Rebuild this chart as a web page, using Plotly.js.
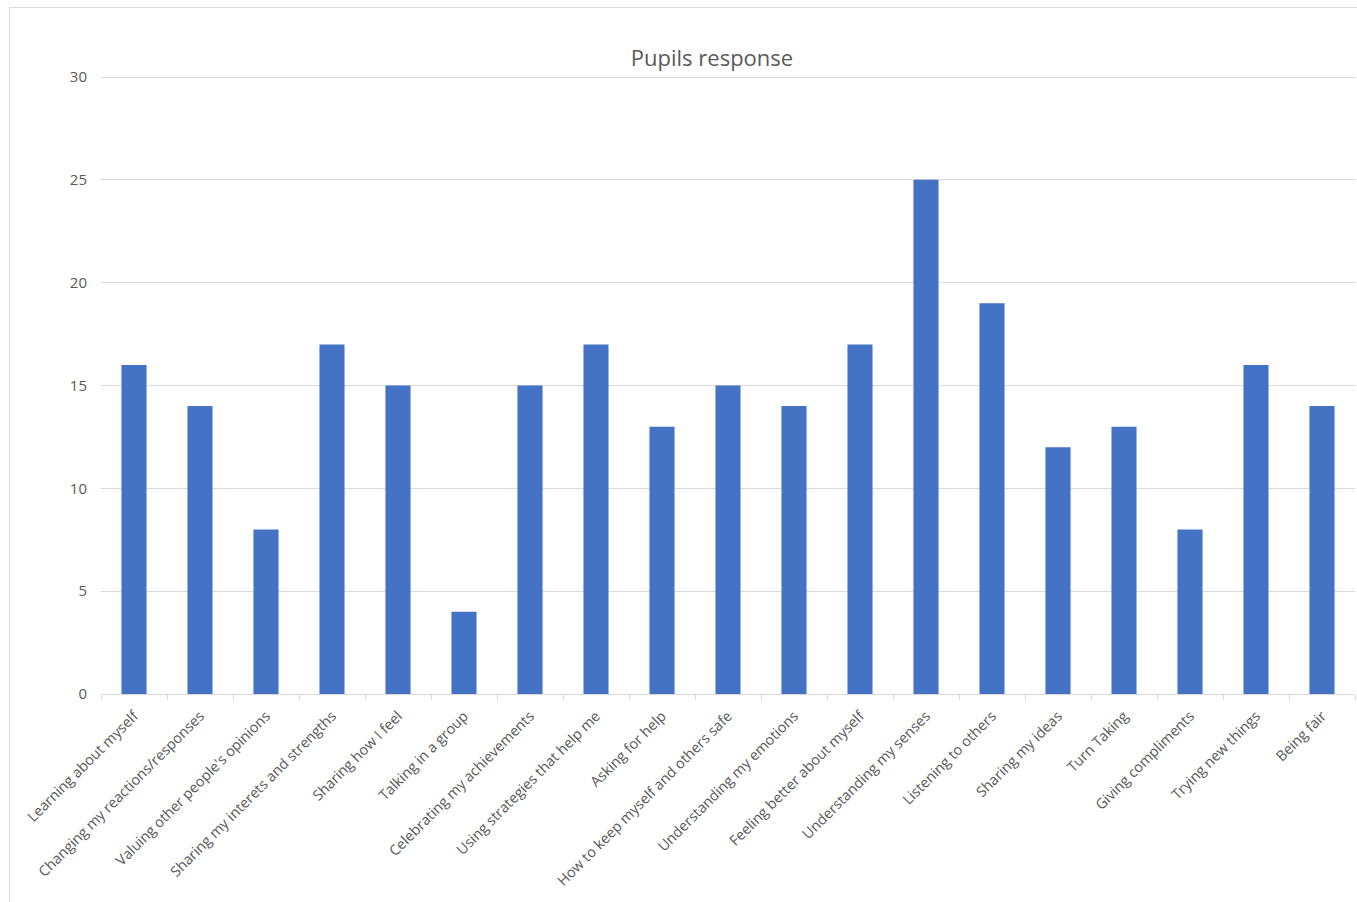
<!DOCTYPE html>
<html>
<head>
<meta charset="utf-8">
<script src="https://cdn.plot.ly/plotly-3.0.1.min.js"></script>
<style>
  html, body { margin: 0; padding: 0; background: #ffffff; overflow: hidden; }
  #wrap { position: relative; width: 1357px; height: 902px; }
  #frame { position: absolute; left: 9px; top: 7px; width: 1360px; height: 910px; border: 1px solid #d9d9d9; box-sizing: border-box; pointer-events: none; z-index: 5; }
  #chart { position: absolute; left: 0; top: 0; width: 1357px; height: 902px; }
</style>
</head>
<body>
<div id="wrap">
  <div id="chart"></div>
  <div id="frame"></div>
</div>
<script>
const categories = [
  "Learning about myself",
  "Changing my reactions/responses",
  "Valuing other people's opinions",
  "Sharing my interets and strengths",
  "Sharing how I feel",
  "Talking in a group",
  "Celebrating my achievements",
  "Using strategies that help me",
  "Asking for help",
  "How to keep myself and others safe",
  "Understanding my emotions",
  "Feeling better about myself",
  "Understanding my senses",
  "Listening to others",
  "Sharing my ideas",
  "Turn Taking",
  "Giving compliments",
  "Trying new things",
  "Being fair"
];
const responses = [16, 14, 8, 17, 15, 4, 15, 17, 13, 15, 14, 17, 25, 19, 12, 13, 8, 16, 14];
const yTicks = [0, 5, 10, 15, 20, 25, 30];

const trace = {
  type: 'bar',
  x: categories,
  y: responses,
  marker: { color: '#4472C4', line: { width: 0 } },
  hoverinfo: 'x+y'
};

const layout = {
  width: 1357,
  height: 902,
  margin: { l: 101, r: 2, t: 76, b: 208 },
  paper_bgcolor: 'rgba(0,0,0,0)',
  plot_bgcolor: '#ffffff',
  bargap: 0.62,
  showlegend: false,
  font: { family: 'Open Sans, sans-serif', color: '#595959', size: 14 },
  title: {
    text: 'Pupils response',
    font: { size: 22, color: '#595959', family: 'Open Sans, sans-serif' },
    xref: 'container', yref: 'container',
    x: 0.5247, xanchor: 'center',
    y: 0.9357, yanchor: 'middle'
  },
  xaxis: {
    type: 'category',
    tickangle: -45,
    showline: true,
    linecolor: '#d9d9d9',
    linewidth: 1,
    ticks: 'outside',
    ticklen: 5,
    tickcolor: '#d9d9d9',
    tickson: 'boundaries',
    showgrid: false,
    ticklabelstandoff: 7,
    tickfont: { size: 14.4, color: '#595959' },
    automargin: false
  },
  yaxis: {
    range: [0, 30.05],
    tickvals: yTicks,
    ticktext: yTicks.map(String),
    showgrid: true,
    gridcolor: '#d9d9d9',
    gridwidth: 1,
    zeroline: false,
    showline: false,
    ticks: '',
    ticklabelstandoff: 13,
    tickfont: { size: 15, color: '#595959' },
    automargin: false
  }
};

Plotly.newPlot('chart', [trace], layout, { displayModeBar: false, staticPlot: true });
</script>
</body>
</html>
